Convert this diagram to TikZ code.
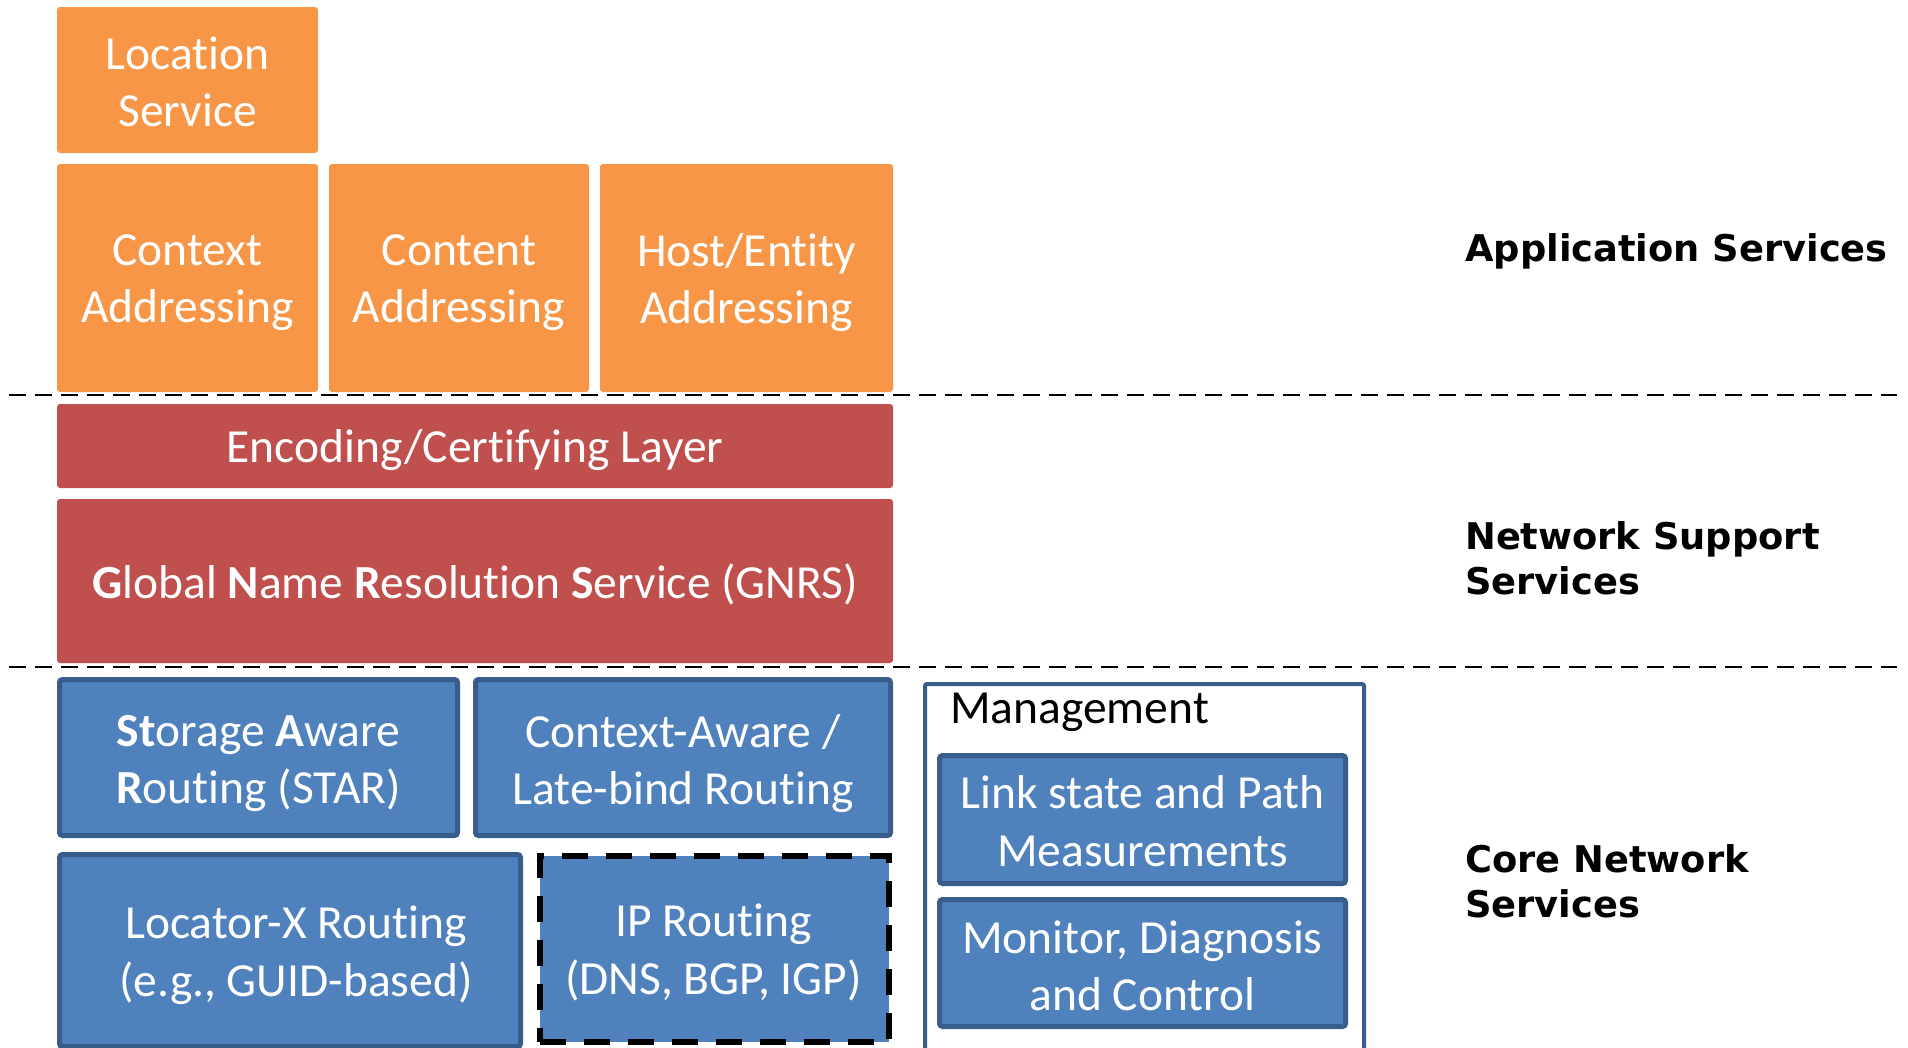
\documentclass[tikz,border=0pt]{standalone}
\usepackage{fontspec}
\setmainfont{Carlito}[Ligatures={NoCommon}]
\newfontfamily\labelfont{DejaVu Sans}
\definecolor{orangebox}{HTML}{F79646}
\definecolor{redbox}{HTML}{C0504D}
\definecolor{bluebox}{HTML}{4F81BD}
\definecolor{blueedge}{HTML}{385D8A}
\tikzset{
  basebox/.style={rounded corners=3pt, inner sep=0pt, outer sep=0pt, anchor=north west},
  celltext/.style={inner sep=0pt, align=center, text=white, yshift=-4.5pt,
    font=\fontsize{47.5}{57.5}\selectfont},
  orangecell/.style={basebox, fill=orangebox},
  redcell/.style={basebox, fill=redbox},
  bluecell/.style={basebox, fill=bluebox, draw=blueedge, line width=5pt},
  ipcell/.style={basebox, fill=bluebox, draw=black, line width=6pt, dash pattern=on 26pt off 18pt, rounded corners=0pt},
  mgmtbox/.style={rounded corners=2pt, inner sep=0pt, anchor=north west, fill=white, draw=blueedge, line width=4pt},
  sidelabel/.style={anchor=west, inner sep=0pt, align=left, font=\labelfont\bfseries\fontsize{36.8}{45}\selectfont},
  separator/.style={draw=black, line width=2.5pt, dash pattern=on 17pt off 9pt}
}
\begin{document}
\begin{tikzpicture}[x=1pt,y=-1pt]
\useasboundingbox (0,0) rectangle (1908,1047);
\clip (0,0) rectangle (1908,1047);
% Application services
\node[orangecell, minimum width=261pt, minimum height=146pt,
  label={[celltext, yshift=2.5pt]center:{Location\\Service}}] (loc) at (57,7) {};
\node[orangecell, minimum width=261pt, minimum height=228pt,
  label={[celltext]center:{Context\\Addressing}}] (ctx) at (57,164) {};
\node[orangecell, minimum width=260pt, minimum height=228pt,
  label={[celltext]center:{Content\\Addressing}}] (cnt) at (329,164) {};
\node[orangecell, minimum width=293pt, minimum height=228pt,
  label={[celltext]center:{Host/Entity\\Addressing}}] (host) at (600,164) {};
% separators
\coordinate (s1a) at (9,395);
\coordinate (s1b) at (1897,395);
\coordinate (s2a) at (9,667);
\coordinate (s2b) at (1897,667);
\draw[separator] (s1a) -- (s1b);
\draw[separator] (s2a) -- (s2b);
% Network support
\node[redcell, minimum width=836pt, minimum height=84pt,
  label={[celltext]center:{Encoding/Certifying Layer}}] (enc) at (57,404) {};
\node[redcell, minimum width=836pt, minimum height=164pt,
  label={[celltext, yshift=1.5pt]center:{\textbf{G}lobal \textbf{N}ame \textbf{R}esolution \textbf{S}ervice (GNRS)}}] (gnrs) at (57,499) {};
% Core network
\node[bluecell, minimum width=398pt, minimum height=156pt,
  label={[celltext, yshift=-1.5pt]center:{\textbf{St}orage \textbf{A}ware\\\textbf{R}outing (STAR)}}] (star) at (59.5,679.5) {};
\node[bluecell, minimum width=415pt, minimum height=156pt,
  label={[celltext, yshift=-1.5pt]center:{Context-Aware /\\Late-bind Routing}}] (late) at (475.5,679.5) {};
\node[bluecell, minimum width=461pt, minimum height=192pt,
  label={[celltext, xshift=6pt]center:{Locator-X Routing\\(e.g., GUID-based)}}] (locx) at (59.5,854.5) {};
\node[ipcell, minimum width=349pt, minimum height=186pt,
  label={[celltext, xshift=-1pt, yshift=1pt]center:{IP Routing\\(DNS, BGP, IGP)}}] (ip) at (540,856) {};
% Management
\node[mgmtbox, minimum width=439pt, minimum height=380pt] (mgmt) at (923,682) {};
\node[anchor=west, inner sep=0pt, font=\fontsize{47.5}{57.5}\selectfont] (mgmtt) at (950,712) {Management};
\node[bluecell, minimum width=406pt, minimum height=128pt,
  label={[celltext, yshift=3pt]center:{Link state and Path\\Measurements}}] (link) at (939.5,755.5) {};
\node[bluecell, minimum width=406pt, minimum height=127pt,
  label={[celltext, yshift=1.5pt]center:{Monitor, Diagnosis\\and Control}}] (mon) at (939.5,899.5) {};
% Side labels
\node[sidelabel] (app) at (1465,251) {Application Services};
\node[sidelabel] (nss) at (1465,558) {Network Support\\Services};
\node[sidelabel] (cns) at (1465,881) {Core Network\\Services};
\end{tikzpicture}
\end{document}
